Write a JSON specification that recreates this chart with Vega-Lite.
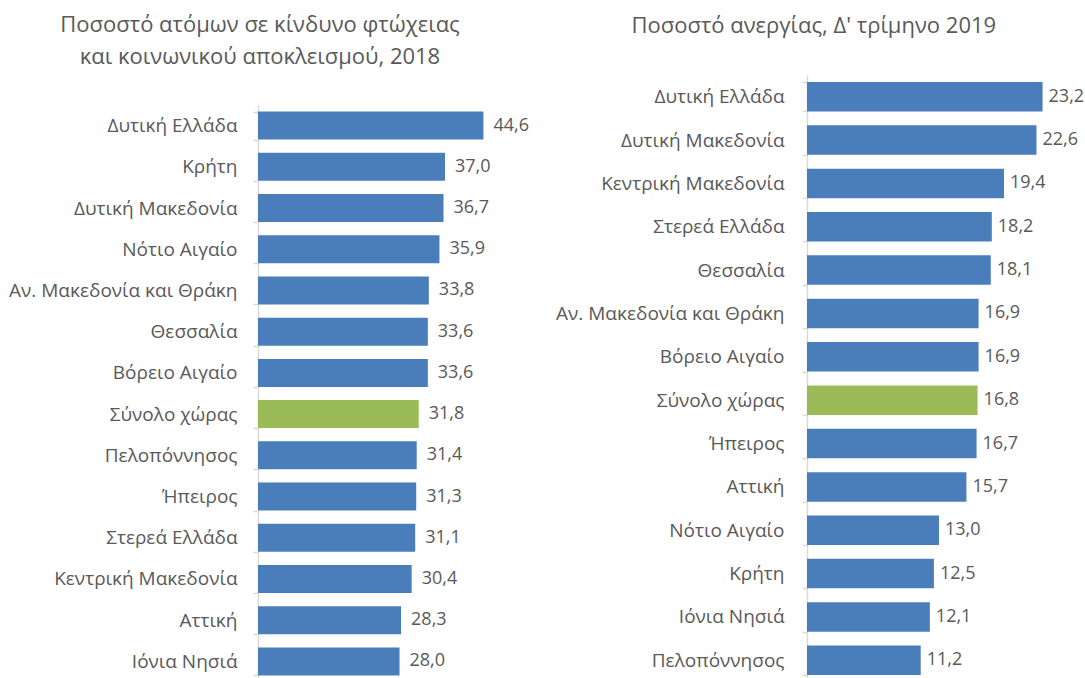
{
  "$schema": "https://vega.github.io/schema/vega-lite/v6.json",
  "padding": {"left": 0, "top": 14, "right": 0, "bottom": 0},
  "config": {
    "font": "Open Sans",
    "locale": {"number": {"decimal": ",", "thousands": ".", "grouping": [3], "currency": ["", " €"]}},
    "view": {"stroke": null},
    "concat": {"spacing": 19},
    "axis": {"domainColor": "#d9d9d9", "domainWidth": 1.5, "tickColor": "#d9d9d9", "tickWidth": 1.5, "tickSize": 5, "labelColor": "#595959", "labelFontSize": 19, "labelLimit": 400, "title": null, "tickBand": "extent", "labelFont": "Open Sans"},
    "title": {"color": "#595959", "fontSize": 22, "fontWeight": "normal", "font": "Open Sans", "anchor": "middle", "frame": "bounds"}
  },
  "datasets": {
    "poverty": [
      {"region": "Δυτική Ελλάδα", "value": 44.6, "kind": "region"},
      {"region": "Κρήτη", "value": 37.0, "kind": "region"},
      {"region": "Δυτική Μακεδονία", "value": 36.7, "kind": "region"},
      {"region": "Νότιο Αιγαίο", "value": 35.9, "kind": "region"},
      {"region": "Αν. Μακεδονία και Θράκη", "value": 33.8, "kind": "region"},
      {"region": "Θεσσαλία", "value": 33.6, "kind": "region"},
      {"region": "Βόρειο Αιγαίο", "value": 33.6, "kind": "region"},
      {"region": "Σύνολο χώρας", "value": 31.8, "kind": "country"},
      {"region": "Πελοπόννησος", "value": 31.4, "kind": "region"},
      {"region": "Ήπειρος", "value": 31.3, "kind": "region"},
      {"region": "Στερεά Ελλάδα", "value": 31.1, "kind": "region"},
      {"region": "Κεντρική Μακεδονία", "value": 30.4, "kind": "region"},
      {"region": "Αττική", "value": 28.3, "kind": "region"},
      {"region": "Ιόνια Νησιά", "value": 28.0, "kind": "region"}
    ],
    "unemployment": [
      {"region": "Δυτική Ελλάδα", "value": 23.2, "kind": "region"},
      {"region": "Δυτική Μακεδονία", "value": 22.6, "kind": "region"},
      {"region": "Κεντρική Μακεδονία", "value": 19.4, "kind": "region"},
      {"region": "Στερεά Ελλάδα", "value": 18.2, "kind": "region"},
      {"region": "Θεσσαλία", "value": 18.1, "kind": "region"},
      {"region": "Αν. Μακεδονία και Θράκη", "value": 16.9, "kind": "region"},
      {"region": "Βόρειο Αιγαίο", "value": 16.9, "kind": "region"},
      {"region": "Σύνολο χώρας", "value": 16.8, "kind": "country"},
      {"region": "Ήπειρος", "value": 16.7, "kind": "region"},
      {"region": "Αττική", "value": 15.7, "kind": "region"},
      {"region": "Νότιο Αιγαίο", "value": 13.0, "kind": "region"},
      {"region": "Κρήτη", "value": 12.5, "kind": "region"},
      {"region": "Ιόνια Νησιά", "value": 12.1, "kind": "region"},
      {"region": "Πελοπόννησος", "value": 11.2, "kind": "region"}
    ]
  },
  "hconcat": [
    {
      "data": {"name": "poverty"},
      "title": {"text": ["Ποσοστό ατόμων σε κίνδυνο φτώχειας", "και κοινωνικού αποκλεισμού, 2018"], "lineHeight": 32, "offset": -3, "dx": -8},
      "width": 278,
      "height": 607,
      "encoding": {
        "y": {"field": "region", "type": "nominal", "sort": null,
              "scale": {"range": [30, 607], "paddingInner": 0.32, "paddingOuter": 0.16},
              "axis": {"labelPadding": 16, "minExtent": 258, "maxExtent": 258}},
        "x": {"field": "value", "type": "quantitative", "scale": {"domain": [0, 55], "nice": false}, "axis": null}
      },
      "layer": [
        {"mark": {"type": "bar"},
         "encoding": {"color": {"field": "kind", "type": "nominal", "scale": {"domain": ["region", "country"], "range": ["#4a7ebb", "#9bbb59"]}, "legend": null}}},
        {"mark": {"type": "text", "align": "left", "baseline": "middle", "dx": 10, "fontSize": 18, "color": "#595959"},
         "encoding": {"text": {"field": "value", "type": "quantitative", "format": ".1f"}}}
      ]
    },
    {
      "data": {"name": "unemployment"},
      "title": {"text": "Ποσοστό ανεργίας, Δ' τρίμηνο 2019", "offset": 28, "dx": -6},
      "width": 264,
      "height": 607,
      "encoding": {
        "y": {"field": "region", "type": "nominal", "sort": null,
              "scale": {"paddingInner": 0.32, "paddingOuter": 0.16},
              "axis": {"labelPadding": 18, "minExtent": 250, "maxExtent": 250}},
        "x": {"field": "value", "type": "quantitative", "scale": {"domain": [0, 26], "nice": false}, "axis": null}
      },
      "layer": [
        {"mark": {"type": "bar"},
         "encoding": {"color": {"field": "kind", "type": "nominal", "scale": {"domain": ["region", "country"], "range": ["#4a7ebb", "#9bbb59"]}, "legend": null}}},
        {"mark": {"type": "text", "align": "left", "baseline": "middle", "dx": 6, "fontSize": 18, "color": "#595959"},
         "encoding": {"text": {"field": "value", "type": "quantitative", "format": ".1f"}}}
      ]
    }
  ],
  "resolve": {"scale": {"color": "independent"}}
}
